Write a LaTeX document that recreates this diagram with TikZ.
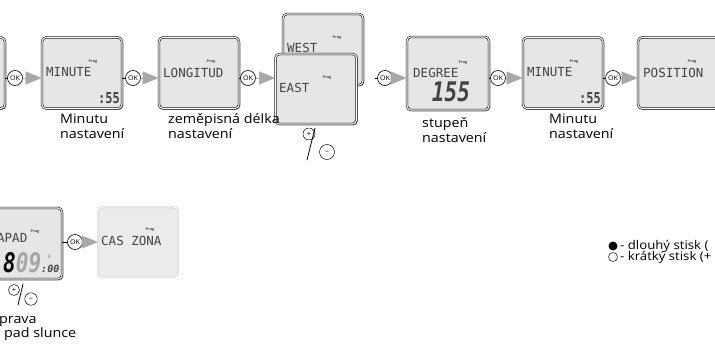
\documentclass[tikz,border=0pt]{standalone}
\usepackage{fontspec}
\usepackage{graphicx}
\setmainfont{Open Sans}[FakeStretch=1.1]
\newfontfamily\lcdfont{DejaVu Sans Mono}
\newfontfamily\symfont{DejaVu Sans}
\usetikzlibrary{arrows.meta,shadows}
\definecolor{lcdfill}{HTML}{E6E6E6}
\definecolor{lcdink}{HTML}{444444}
\definecolor{arrowgray}{HTML}{A8A8A8}
\tikzset{
  lcd/.style={draw, line width=.6pt, double=white, double distance=1.1pt, fill=lcdfill,
    rounded corners=4pt, minimum width=80pt, minimum height=71pt, inner sep=0pt,
    drop shadow={shadow xshift=1.3pt, shadow yshift=-1.3pt, fill=gray!80, opacity=1}},
  lcdpale/.style={draw=gray!55, line width=.4pt, double=white, double distance=1.2pt,
    fill=lcdfill!80, rounded corners=4pt, minimum width=80pt, minimum height=70pt, inner sep=0pt},
  lcdtxt/.style={anchor=west, inner sep=0pt, text=lcdink, font=\lcdfont\fontsize{12.5}{12.5}\selectfont},
  prog/.style={inner sep=0pt, text=lcdink, font=\bfseries\fontsize{3.5}{3.5}\selectfont},
  okbtn/.style={circle, draw, line width=.6pt, fill=white, minimum size=15pt, inner sep=0pt,
    font=\fontsize{6.5}{6.5}\selectfont},
  okarr/.style={draw=arrowgray, line width=.4pt, -{Triangle[length=16pt, width=13pt]}},
  lbl/.style={anchor=base west, align=left, inner sep=0pt, font=\fontsize{13}{15}\selectfont},
  pmbtn/.style={circle, draw, line width=.5pt, inner sep=0pt, font=\fontsize{7}{7}\selectfont}
}
\begin{document}
\begin{tikzpicture}[x=1pt, y=-1pt, line join=round, line cap=round]
\useasboundingbox (0,0) rectangle (715,345);
\clip (0,0) rectangle (715,345);
% displays, upper row
\node[lcd] (b0) at (-35,73) {};
\node[lcd] (mn1) at (82,73) {};
\node[lcd] (lon) at (199,73) {};
\node[lcd] (west) at (323,49.5) {};
\node[lcd, minimum width=81pt, minimum height=70pt] (east) at (316,89) {};
\node[lcd, minimum width=82pt, minimum height=73pt] (deg) at (448,73.5) {};
\node[lcd] (mn2) at (563,73) {};
\node[lcd] (pos) at (678,73) {};
% displays, lower row
\node[lcd] (zap) at (22,243.5) {};
\node[lcdpale] (cas) at (138,242) {};

% display texts
\node[lcdtxt] (t1) at (46,72.5) {MINUTE};
\node[prog] (p1) at (93,62) {Prog};
\node[anchor=east, inner sep=0pt, text=lcdink, font=\lcdfont\bfseries\fontsize{15}{15}\selectfont] (s1) at (120,98) {\scalebox{.8}[1]{:55}};
\node[lcdtxt] (t2) at (163,72.5) {LONGITUD};
\node[prog] (p2) at (211,62) {Prog};
\node[lcdtxt] (t3) at (287,48) {WEST};
\node[prog] (p3) at (337,38) {Prog};
\node[lcdtxt] (t4) at (279,88) {EAST};
\node[prog] (p4) at (327,78) {Prog};
\node[lcdtxt] (t5) at (413,73) {DEGREE};
\node[prog] (p5) at (463,63) {Prog};
\node[inner sep=0pt, text=lcdink, font=\lcdfont\bfseries\itshape\fontsize{27}{27}\selectfont] (s5) at (451,92) {\scalebox{.78}[1]{155}};
\node[lcdtxt] (t6) at (527,72.5) {MINUTE};
\node[prog] (p6) at (574,62) {Prog};
\node[anchor=east, inner sep=0pt, text=lcdink, font=\lcdfont\bfseries\fontsize{15}{15}\selectfont] (s6) at (601,98) {\scalebox{.8}[1]{:55}};
\node[lcdtxt] (t7) at (643,72.5) {POSITION};
\node[prog] (p7) at (692,62) {Prog};
\node[lcdtxt] (t8) at (-3,238) {APAD};
\node[prog] (p8) at (35,232) {Prog};
\node[anchor=base west, inner sep=0pt, font=\lcdfont\bfseries\itshape\fontsize{27}{27}\selectfont] (s8) at (3,272)
  {\scalebox{.78}[1]{8\textcolor{gray!70}{09}}\fontsize{10}{10}\selectfont\textcolor{lcdink}{:00}};
\node[inner sep=0pt, font=\symfont\fontsize{5}{5}\selectfont] (moon) at (50,257) {☾};
\node[lcdtxt] (t9) at (101,241) {CAS ZONA};
\node[prog] (p9) at (150,230) {Prog};

% OK buttons and arrows
\node[okbtn] (ok1) at (15,78) {OK};
\node[okbtn] (ok2) at (133,78) {OK};
\node[okbtn] (ok3) at (248,78) {OK};
\node[okbtn] (ok4) at (385,78) {OK};
\node[okbtn] (ok5) at (498,78) {OK};
\node[okbtn] (ok6) at (613,78) {OK};
\node[okbtn] (ok7) at (75,242) {OK};
\coordinate (c4) at (375,78);
\draw (b0.east |- ok1) -- (ok1);
\draw (mn1.east |- ok2) -- (ok2);
\draw (lon.east |- ok3) -- (ok3);
\draw (c4) -- (ok4);
\draw (deg.east |- ok5) -- (ok5);
\draw (mn2.east |- ok6) -- (ok6);
\draw (zap.east |- ok7) -- (ok7);
\draw[okarr] (ok1) -- (mn1.west |- ok1);
\draw[okarr] (ok2) -- (lon.west |- ok2);
\draw[okarr] (ok3) -- (east.west |- ok3);
\draw[okarr] (ok4) -- (deg.west |- ok4);
\draw[okarr] (ok5) -- (mn2.west |- ok5);
\draw[okarr] (ok6) -- (pos.west |- ok6);
\draw[okarr] (ok7) -- (cas.west |- ok7);

% +/- buttons
\node[pmbtn, minimum size=12pt] (pl1) at (309,134) {+};
\node[pmbtn, minimum size=15pt] (mi1) at (327,152) {--};
\coordinate (sa1) at (315,128);
\coordinate (sb1) at (307,160);
\draw[line width=.8pt] (sa1) -- (sb1);
\node[pmbtn, minimum size=11pt] (pl2) at (14,290) {+};
\node[pmbtn, minimum size=12.5pt] (mi2) at (31,299) {--};
\coordinate (sa2) at (23,284);
\coordinate (sb2) at (18,305);
\draw[line width=.8pt] (sa2) -- (sb2);

% captions
\node[lbl] (l1) at (60,138) {Minutu\\nastavení};
\node[lbl] (l2) at (168,138) {zeměpisná délka\\nastavení};
\node[lbl] (l3) at (422,142) {stupeň\\nastavení};
\node[lbl] (l4) at (549,138) {Minutu\\nastavení};
\node[lbl] (l5) at (-1,323) {prava};
\node[lbl] (l6) at (4,337) {pad slunce};

% legend
\node[circle, fill, minimum size=9pt, inner sep=0pt] (lg1) at (613,246) {};
\node[circle, draw, line width=.5pt, minimum size=9pt, inner sep=0pt] (lg2) at (613,257) {};
\node[anchor=west, inner sep=0pt, font=\fontsize{12}{12}\selectfont] (lt1) at (620,246) {- dlouhý stisk (};
\node[anchor=west, inner sep=0pt, font=\fontsize{12}{12}\selectfont] (lt2) at (620,257) {- krátký stisk (+};
\end{tikzpicture}
\end{document}
